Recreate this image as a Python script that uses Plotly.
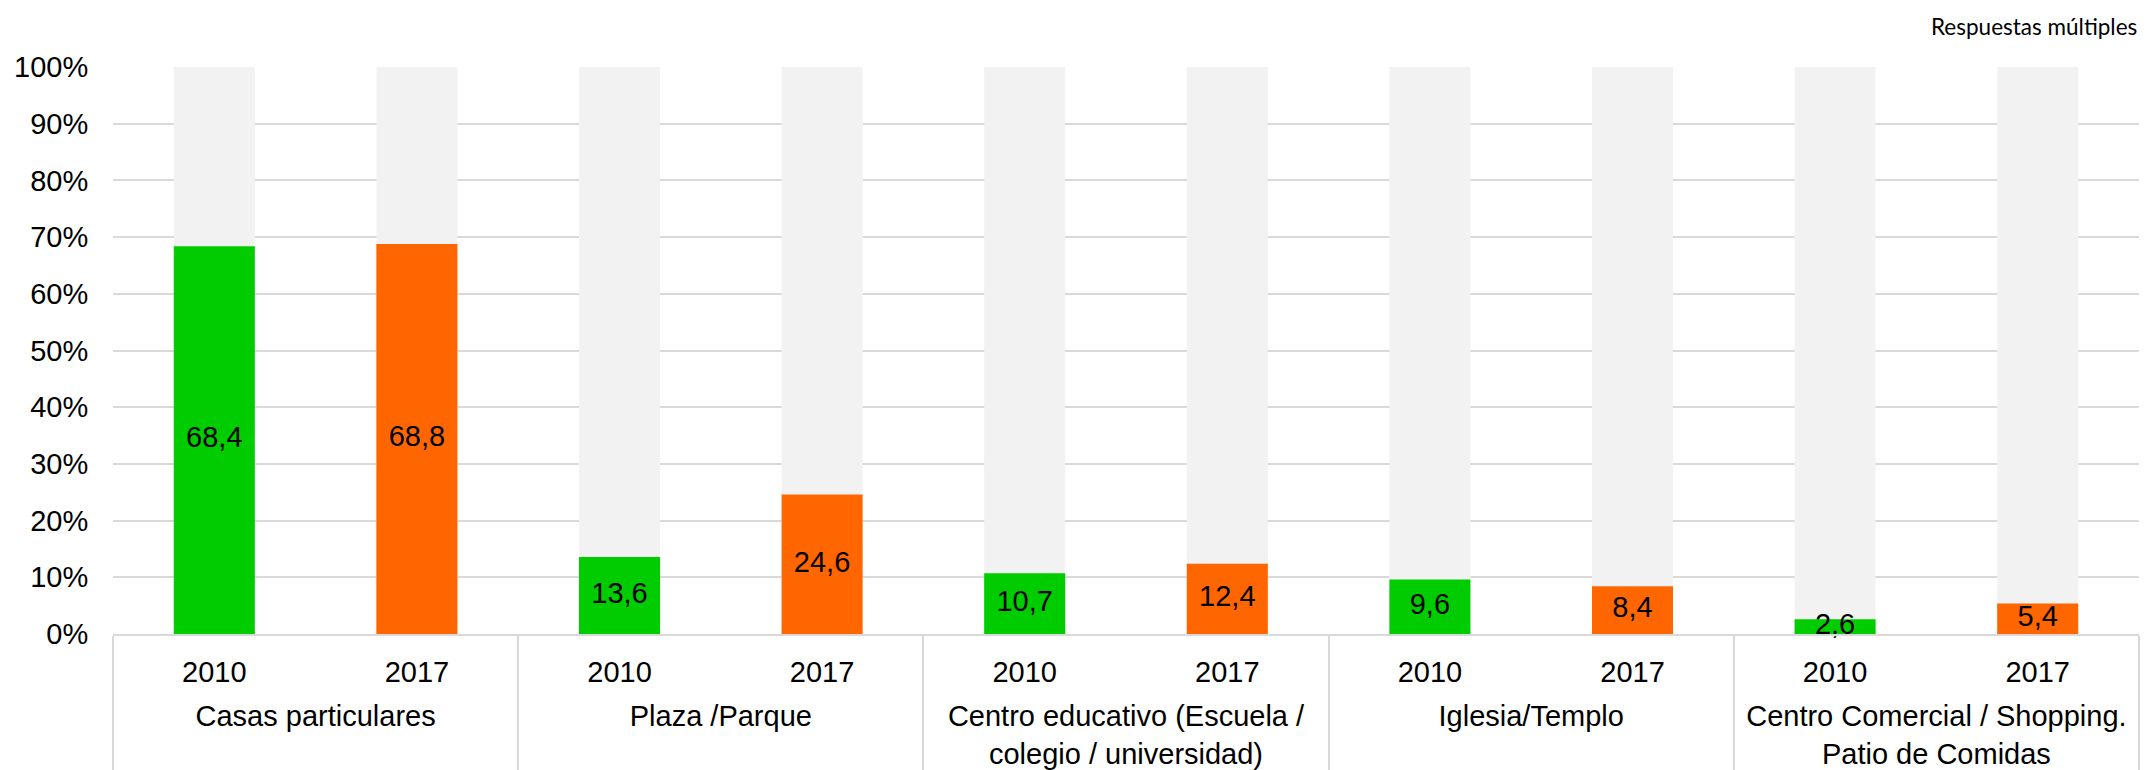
import plotly.graph_objects as go

groups = ["Casas particulares", "Plaza /Parque",
          "Centro educativo (Escuela /<br>colegio / universidad)",
          "Iglesia/Templo",
          "Centro Comercial / Shopping.<br>Patio de Comidas"]
years = ["2010", "2017"]
values_2010 = [68.4, 13.6, 10.7, 9.6, 2.6]
values_2017 = [68.8, 24.6, 12.4, 8.4, 5.4]
y_ticks = [0, 10, 20, 30, 40, 50, 60, 70, 80, 90, 100]

GREEN = "#00CC00"
ORANGE = "#FF6600"
GRAY = "#F2F2F2"
GRID = "#D9D9D9"
FONT = "Liberation Sans, Arial, sans-serif"
FS = 29

# invisible tall spacer so the second label row sits lower (gap as in the reference)
PAD = "<span style='font-size:47px'> </span>"


def fmt(v):
    return f"{v:.1f}".replace(".", ",")


def ylab(y):
    return PAD + y + PAD


all_g = [g for g in groups for _ in years]
all_y = [ylab(y) for _ in groups for y in years]
x2010 = [groups, [ylab("2010")] * len(groups)]
x2017 = [groups, [ylab("2017")] * len(groups)]

fig = go.Figure()
fig.add_trace(go.Bar(x=[all_g, all_y], y=[100] * len(all_g), width=0.4,
                     marker=dict(color=GRAY, line=dict(width=0)),
                     hoverinfo="skip", showlegend=False))
fig.add_trace(go.Bar(x=x2010, y=values_2010, width=0.4,
                     marker=dict(color=GREEN, line=dict(width=0)), showlegend=False))
fig.add_trace(go.Bar(x=x2017, y=values_2017, width=0.4,
                     marker=dict(color=ORANGE, line=dict(width=0)), showlegend=False))
fig.add_trace(go.Scatter(x=x2010, y=[v / 2 for v in values_2010],
                         mode="text", text=[fmt(v) for v in values_2010],
                         textposition="middle center", cliponaxis=False,
                         textfont=dict(size=FS, color="black", family=FONT), showlegend=False))
fig.add_trace(go.Scatter(x=x2017, y=[v / 2 for v in values_2017],
                         mode="text", text=[fmt(v) for v in values_2017],
                         textposition="middle center", cliponaxis=False,
                         textfont=dict(size=FS, color="black", family=FONT), showlegend=False))

fig.update_layout(
    width=2153, height=770,
    margin=dict(l=113, r=14, t=67, b=136),
    barmode="overlay",
    plot_bgcolor="white", paper_bgcolor="white",
    font=dict(family=FONT, size=FS, color="black"),
    xaxis=dict(type="multicategory", showline=True, linecolor=GRID, linewidth=2,
               showdividers=True, dividercolor=GRID, dividerwidth=2, automargin=False,
               ticks="", ticklabelstandoff=11,
               showgrid=False, tickfont=dict(size=FS, family=FONT, color="black")),
    yaxis=dict(range=[0, 100], tickvals=y_ticks, ticktext=[f"{t}%" for t in y_ticks],
               showgrid=True, gridcolor=GRID, gridwidth=2, zeroline=False, showline=False,
               automargin=False,
               ticks="outside", ticklen=18, tickcolor="rgba(0,0,0,0)",
               tickfont=dict(size=FS, family=FONT, color="black")),
    annotations=[dict(text="Respuestas múltiples", xref="paper", yref="paper",
                      x=1.0, y=1.072, xanchor="right", yanchor="middle", showarrow=False,
                      font=dict(family="Lato, Open Sans, sans-serif", size=22.5, color="black"))],
)

fig.write_html("out.html", config={"displayModeBar": False},
               post_script="document.body.style.margin='0';document.body.style.overflow='hidden';")
